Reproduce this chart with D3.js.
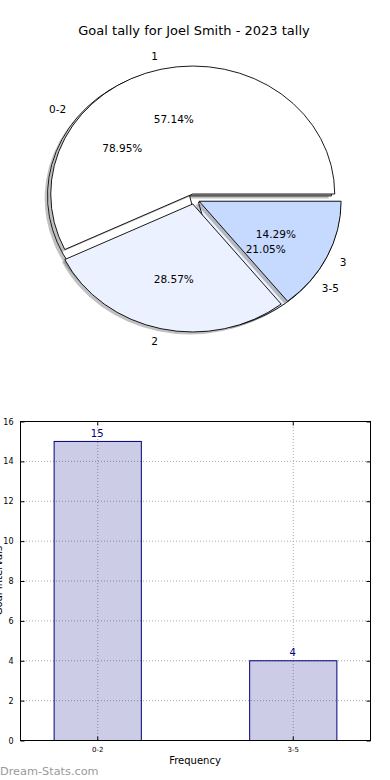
<!DOCTYPE html>
<html>
<head>
<meta charset="utf-8">
<script src="https://cdn.jsdelivr.net/npm/d3@7"></script>
<style>
body { margin: 0; background: #fff; }
svg { display: block; font-family: "DejaVu Sans", sans-serif; }
</style>
</head>
<body>
<script>
// pie data: two pies drawn on top of each other
var goalLabels = ["1", "2", "3"];
var goalCounts = [4, 2, 1];
var rangeLabels = ["0-2", "3-5"];
var rangeCounts = [15, 4];
var pieColors = ["#ffffff", "#ebf1ff", "#c6d9ff"];

// bar data
var barCats = ["0-2", "3-5"];
var barVals = [15, 4];
var yTicks = [0, 2, 4, 6, 8, 10, 12, 14, 16];

var w = 390;
var h = 780;

var svg = d3.select("body")
    .append("svg")
    .attr("width", w)
    .attr("height", h);

svg.append("text")
    .attr("x", 194)
    .attr("y", 35)
    .attr("text-anchor", "middle")
    .style("font-size", "13px")
    .text("Goal tally for Joel Smith - 2023 tally");

// ---- pie ----
var cx = 194, cy = 199;
var rx = 142, ry = 128;
var explode = 0.04;

// unit scales, pie radius 1 maps onto the ellipse radii
var px = d3.scaleLinear().domain([0, 1]).range([cx, cx + rx]);
var py = d3.scaleLinear().domain([0, 1]).range([cy, cy - ry]);

// matplotlib starts at 3 o'clock and goes counter clockwise
var pie = d3.pie().sort(null)
    .startAngle(Math.PI / 2)
    .endAngle(Math.PI / 2 - 2 * Math.PI);

var arc = d3.arc().innerRadius(0).outerRadius(1);

function drawPie(labels, counts) {
    var total = d3.sum(counts);
    var arcs = pie(counts);
    arcs.forEach(function(d, i) {
        var a = (d.startAngle + d.endAngle) / 2;
        var ux = Math.sin(a), uy = Math.cos(a);
        var ox = explode * ux, oy = explode * uy;

        // shadow
        svg.append("path")
            .attr("d", arc(d))
            .attr("transform", "translate(" + px(ox - 0.02) + "," + py(oy - 0.02) + ") scale(" + rx + "," + ry + ")")
            .attr("fill", "#4d4d4d")
            .attr("fill-opacity", 0.35)
            .attr("stroke", "none");

        svg.append("path")
            .attr("d", arc(d))
            .attr("transform", "translate(" + px(ox) + "," + py(oy) + ") scale(" + rx + "," + ry + ")")
            .attr("fill", pieColors[i])
            .attr("stroke", "#000")
            .attr("stroke-width", 0.9)
            .attr("vector-effect", "non-scaling-stroke");

        d.lx = px(ox + 1.1 * ux);
        d.ly = py(oy + 1.1 * uy);
        d.anchor = ux > 0 ? "start" : "end";
        d.tx = px(ox + 0.6 * ux);
        d.ty = py(oy + 0.6 * uy);
        d.label = labels[i];
        d.pct = (100 * counts[i] / total).toFixed(2) + "%";
    });
    return arcs;
}

var rangeArcs = drawPie(rangeLabels, rangeCounts);
var goalArcs = drawPie(goalLabels, goalCounts);

rangeArcs.concat(goalArcs).forEach(function(d) {
    svg.append("text")
        .attr("x", d.lx)
        .attr("y", d.ly)
        .attr("dy", "0.35em")
        .attr("text-anchor", d.anchor)
        .style("font-size", "10.5px")
        .text(d.label);
    svg.append("text")
        .attr("x", d.tx)
        .attr("y", d.ty)
        .attr("dy", "0.35em")
        .attr("text-anchor", "middle")
        .style("font-size", "10.5px")
        .text(d.pct);
});

// ---- bars ----
var plotL = 20, plotR = 370, plotT = 421, plotB = 740;

var xScale = d3.scaleBand()
    .domain(barCats)
    .range([plotL, plotR])
    .paddingInner(0.554)
    .paddingOuter(0.172);

var yScale = d3.scaleLinear()
    .domain([0, 16])
    .range([plotB, plotT]);

// grid
svg.selectAll(".ygrid")
    .data(yTicks.slice(1, -1))
    .enter()
    .append("line")
    .attr("x1", plotL)
    .attr("x2", plotR)
    .attr("y1", function(d) { return yScale(d) + 0.5; })
    .attr("y2", function(d) { return yScale(d) + 0.5; })
    .attr("stroke", "#aaa")
    .attr("stroke-dasharray", "1,2");

svg.selectAll(".xgrid")
    .data(barCats)
    .enter()
    .append("line")
    .attr("x1", function(d) { return xScale(d) + xScale.bandwidth() / 2 + 0.5; })
    .attr("x2", function(d) { return xScale(d) + xScale.bandwidth() / 2 + 0.5; })
    .attr("y1", plotT)
    .attr("y2", plotB)
    .attr("stroke", "#aaa")
    .attr("stroke-dasharray", "1,2");

svg.selectAll(".bar")
    .data(barVals)
    .enter()
    .append("rect")
    .attr("x", function(d, i) { return xScale(barCats[i]) + 0.5; })
    .attr("y", function(d) { return yScale(d) + 0.5; })
    .attr("width", xScale.bandwidth())
    .attr("height", function(d) { return plotB - yScale(d); })
    .attr("fill", "navy")
    .attr("fill-opacity", 0.2)
    .attr("stroke", "navy")
    .attr("stroke-width", 1);

svg.selectAll(".val")
    .data(barVals)
    .enter()
    .append("text")
    .attr("x", function(d, i) { return xScale(barCats[i]) + xScale.bandwidth() / 2; })
    .attr("y", function(d) { return yScale(d) - 4; })
    .attr("text-anchor", "middle")
    .attr("fill", "navy")
    .style("font-size", "10px")
    .text(function(d) { return d; });

// frame
svg.append("rect")
    .attr("x", plotL + 0.5)
    .attr("y", plotT + 0.5)
    .attr("width", plotR - plotL)
    .attr("height", plotB - plotT)
    .attr("fill", "none")
    .attr("stroke", "#000")
    .attr("stroke-width", 1);

// inward ticks on all four sides
var yAxisL = d3.axisLeft(yScale).tickValues(yTicks).tickSizeInner(-4).tickSizeOuter(0).tickPadding(7);
var yAxisR = d3.axisRight(yScale).tickValues(yTicks).tickSizeInner(-4).tickSizeOuter(0).tickFormat("");
var xAxisB = d3.axisBottom(xScale).tickSizeInner(-4).tickSizeOuter(0).tickPadding(7);
var xAxisT = d3.axisTop(xScale).tickSizeInner(-4).tickSizeOuter(0).tickFormat("");

function styleAxis(g, fs) {
    g.select(".domain").remove();
    g.selectAll("text").style("font-size", fs).attr("fill", "#000")
        .style("font-family", "'DejaVu Sans', sans-serif");
    g.selectAll("line").attr("stroke", "#000");
}

svg.append("g").attr("transform", "translate(" + (plotL + 0.5) + ",0.5)").call(yAxisL).call(styleAxis, "8px");
svg.append("g").attr("transform", "translate(" + (plotR + 0.5) + ",0.5)").call(yAxisR).call(styleAxis, "8px");
svg.append("g").attr("transform", "translate(0.5," + (plotB + 0.5) + ")").call(xAxisB).call(styleAxis, "7px");
svg.append("g").attr("transform", "translate(0.5," + (plotT + 0.5) + ")").call(xAxisT).call(styleAxis, "7px");

svg.append("text")
    .attr("x", (plotL + plotR) / 2)
    .attr("y", 764)
    .attr("text-anchor", "middle")
    .style("font-size", "10px")
    .text("Frequency");

// y label sits mostly past the left page edge, as in the original
svg.append("text")
    .attr("transform", "translate(1.5," + ((plotT + plotB) / 2) + ") rotate(-90)")
    .attr("text-anchor", "middle")
    .style("font-size", "10px")
    .text("Goal Intervals");

svg.append("text")
    .attr("x", 0)
    .attr("y", 775)
    .attr("fill", "#9a9a9a")
    .style("font-size", "11.3px")
    .text("Dream-Stats.com");
</script>
</body>
</html>
